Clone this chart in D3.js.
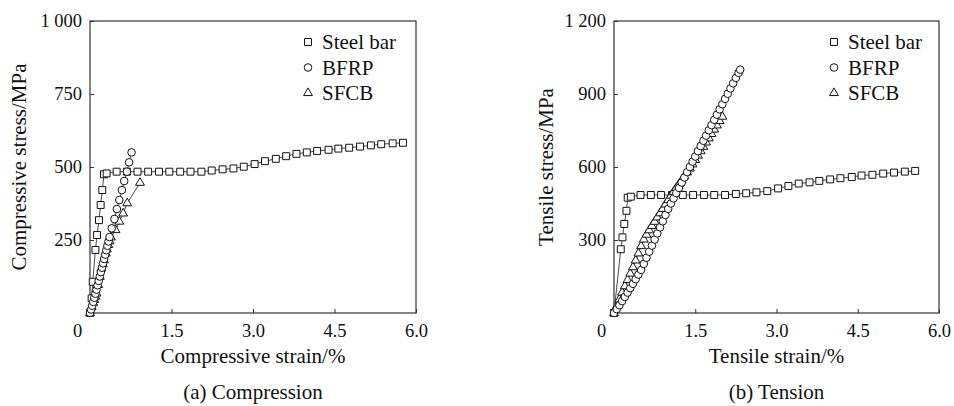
<!DOCTYPE html>
<html>
<head>
<meta charset="utf-8">
<script src="https://cdn.jsdelivr.net/npm/d3@7"></script>
<style>
  body { margin: 0; background: #fff; }
  text { font-family: "Liberation Serif", "Times New Roman", serif; fill: #111; }
</style>
</head>
<body>
<svg id="chart" width="954" height="406"></svg>
<script>
// ---- compression (a) ----
const compSteelStrain = [0, 0.03, 0.05, 0.10, 0.13, 0.165, 0.196, 0.226, 0.257, 0.306, 0.49, 0.68, 0.875, 1.07, 1.27, 1.46, 1.66, 1.85, 2.05, 2.24, 2.44, 2.64, 2.83, 3.03, 3.22, 3.42, 3.61, 3.80, 3.99, 4.18, 4.39, 4.57, 4.77, 4.97, 5.17, 5.36, 5.57, 5.76];
const compSteelStress = [0, 50, 107, 216, 267, 318, 370, 421, 475, 478, 484, 484, 484, 484, 484, 484, 484, 484, 484, 488, 492, 495, 501, 510, 520, 528, 537, 545, 550, 555, 559, 563, 566, 570, 574, 578, 581, 583];

const compBfrpStrain = [0, 0.02, 0.04, 0.06, 0.08, 0.10, 0.12, 0.14, 0.16, 0.18, 0.20, 0.22, 0.24, 0.26, 0.28, 0.30, 0.32, 0.34, 0.36, 0.40, 0.45, 0.495, 0.54, 0.587, 0.63, 0.68, 0.72, 0.765];
const compBfrpStress = [0, 12, 25, 38, 52, 66, 80, 95, 110, 125, 140, 155, 170, 185, 200, 215, 230, 245, 260, 290, 322, 356, 387, 421, 452, 484, 516, 550];

const compSfcbStrain = [0, 0.03, 0.06, 0.08, 0.10, 0.12, 0.15, 0.18, 0.21, 0.235, 0.257, 0.29, 0.31, 0.336, 0.36, 0.385, 0.47, 0.54, 0.61, 0.685, 0.92];
const compSfcbStress = [0, 20, 35, 45, 56, 67, 96, 124, 153, 167, 181, 204, 218, 233, 246, 259, 284, 313, 341, 376, 446];

// ---- tension (b) ----
const tenSteelStrain = [0, 0.125, 0.156, 0.19, 0.23, 0.253, 0.31, 0.49, 0.68, 0.87, 1.07, 1.27, 1.46, 1.66, 1.85, 2.05, 2.25, 2.44, 2.63, 2.83, 3.03, 3.22, 3.41, 3.61, 3.79, 3.99, 4.18, 4.39, 4.57, 4.77, 4.97, 5.17, 5.37, 5.56];
const tenSteelStress = [0, 262, 311, 366, 420, 474, 478, 485, 485, 485, 485, 485, 485, 485, 485, 485, 489, 492, 496, 501, 512, 522, 532, 537, 543, 549, 554, 559, 565, 568, 573, 577, 581, 584];

const tenBfrpStrain = [0, 0.05, 0.10, 0.15, 0.20, 0.25, 0.30, 0.35, 0.40, 0.45, 0.50, 0.55, 0.60, 0.65, 0.70, 0.75, 0.80, 0.85, 0.90, 0.95, 1.00, 1.05, 1.10, 1.15, 1.20, 1.25, 1.30, 1.35, 1.40, 1.45, 1.50, 1.55, 1.60, 1.65, 1.70, 1.75, 1.80, 1.85, 1.90, 1.95, 2.00, 2.05, 2.10, 2.15, 2.20, 2.25, 2.30, 2.33];
const tenBfrpStress = [0, 16, 32, 49, 66, 84, 102, 120, 139, 158, 177, 202, 227, 252, 277, 302, 327, 352, 377, 403, 428, 450, 471, 493, 514, 536, 557, 579, 600, 622, 643, 665, 686, 708, 729, 751, 772, 794, 815, 837, 858, 880, 901, 923, 944, 966, 987, 1000];

const tenSfcbStrain = [0, 0.05, 0.10, 0.15, 0.20, 0.25, 0.30, 0.35, 0.40, 0.45, 0.50, 0.55, 0.60, 0.65, 0.70, 0.75, 0.80, 0.85, 0.90, 0.95, 1.00, 1.05, 1.10, 1.15, 1.20, 1.25, 1.30, 1.35, 1.40, 1.45, 1.50, 1.55, 1.60, 1.65, 1.70, 1.75, 1.80, 1.85, 1.90, 1.95, 2.00];
const tenSfcbStress = [0, 28, 56, 84, 110, 136, 162, 188, 216, 245, 275, 302, 322, 340, 358, 375, 393, 410, 428, 446, 464, 482, 498, 514, 530, 546, 562, 578, 594, 611, 629, 647, 665, 683, 701, 718, 736, 754, 771, 789, 807];

// ---- axes / labels ----
const xTickValues = [0, 1.5, 3.0, 4.5, 6.0];
const xTickLabels = ["0", "1.5", "3.0", "4.5", "6.0"];
const compYTicks = [250, 500, 750, 1000];
const compYLabels = ["250", "500", "750", "1 000"];
const tenYTicks = [300, 600, 900, 1200];
const tenYLabels = ["300", "600", "900", "1 200"];
const legendNames = ["Steel bar", "BFRP", "SFCB"];

const svg = d3.select("#chart");

function marker(g, shape, x, y) {
    if (shape === "circle") {
        g.append("circle").attr("cx", x).attr("cy", y).attr("r", 3.8);
    } else {
        let type = shape === "square" ? d3.symbolSquare : d3.symbolTriangle;
        let size = shape === "square" ? 48 : 34;
        g.append("path")
            .attr("d", d3.symbol().type(type).size(size)())
            .attr("transform", `translate(${x},${y})`);
    }
}

function drawPanel(p) {
    let x = d3.scaleLinear().domain([0, 6]).range([p.left, p.right]);
    let y = d3.scaleLinear().domain([0, p.yMax]).range([313, 21]);

    let g = svg.append("g");

    // x axis, ticks pointing in
    let xAxis = g.append("g")
        .attr("transform", "translate(0,313)")
        .call(d3.axisBottom(x).tickValues(xTickValues)
            .tickFormat((d, i) => xTickLabels[i])
            .tickSize(-4).tickSizeOuter(0).tickPadding(11));
    xAxis.selectAll("text").attr("dx", d => d === 0 ? -13 : 0);

    let yAxis = g.append("g")
        .attr("transform", `translate(${p.left},0)`)
        .call(d3.axisLeft(y).tickValues(p.yTicks)
            .tickFormat((d, i) => p.yLabels[i])
            .tickSize(-4).tickSizeOuter(0).tickPadding(8));

    [xAxis, yAxis].forEach(a => {
        a.select(".domain").remove();
        a.selectAll("line").attr("stroke", "#333");
        a.selectAll("text").style("font-size", "18.5px")
            .style("font-family", "'Liberation Serif', serif").attr("fill", "#111");
    });

    // frame
    g.append("rect")
        .attr("x", p.left).attr("y", 21)
        .attr("width", p.right - p.left).attr("height", 292)
        .attr("fill", "none").attr("stroke", "#333").attr("stroke-width", 1.2);

    // series
    let line = d3.line().x(d => x(d[0])).y(d => y(d[1]));
    p.series.forEach(s => {
        let pts = s.strain.map((v, i) => [v, s.stress[i]]);
        g.append("path").datum(pts)
            .attr("d", line)
            .attr("fill", "none").attr("stroke", "#333").attr("stroke-width", 0.9);
        let mg = g.append("g").attr("fill", "#fff").attr("stroke", "#111").attr("stroke-width", 1);
        pts.forEach(d => marker(mg, s.shape, x(d[0]), y(d[1])));
    });

    // legend
    let lg = g.append("g");
    ["square", "circle", "triangle"].forEach((shape, i) => {
        let cy = 42 + i * 25.5;
        let mg = lg.append("g").attr("fill", "#fff").attr("stroke", "#111").attr("stroke-width", 1);
        marker(mg, shape, p.legendX, cy);
        lg.append("text")
            .attr("x", p.legendX + 14).attr("y", cy + 7)
            .style("font-size", "21px")
            .text(legendNames[i]);
    });

    // titles
    let cx = (p.left + p.right) / 2;
    g.append("text")
        .attr("x", cx).attr("y", 363)
        .attr("text-anchor", "middle").style("font-size", "21px")
        .text(p.xTitle);
    g.append("text")
        .attr("transform", `translate(${p.yTitleX},167) rotate(-90)`)
        .attr("text-anchor", "middle").style("font-size", "21px")
        .text(p.yTitle);
    g.append("text")
        .attr("x", cx).attr("y", 399)
        .attr("text-anchor", "middle").style("font-size", "21px")
        .text(p.caption);
}

drawPanel({
    left: 90, right: 416, yMax: 1000,
    yTicks: compYTicks, yLabels: compYLabels,
    legendX: 308, yTitleX: 26,
    xTitle: "Compressive strain/%", yTitle: "Compressive stress/MPa", caption: "(a) Compression",
    series: [
        { strain: compSteelStrain, stress: compSteelStress, shape: "square" },
        { strain: compSfcbStrain, stress: compSfcbStress, shape: "triangle" },
        { strain: compBfrpStrain, stress: compBfrpStress, shape: "circle" }
    ]
});

drawPanel({
    left: 614, right: 939, yMax: 1200,
    yTicks: tenYTicks, yLabels: tenYLabels,
    legendX: 834, yTitleX: 553,
    xTitle: "Tensile strain/%", yTitle: "Tensile stress/MPa", caption: "(b) Tension",
    series: [
        { strain: tenSteelStrain, stress: tenSteelStress, shape: "square" },
        { strain: tenSfcbStrain, stress: tenSfcbStress, shape: "triangle" },
        { strain: tenBfrpStrain, stress: tenBfrpStress, shape: "circle" }
    ]
});
</script>
</body>
</html>
